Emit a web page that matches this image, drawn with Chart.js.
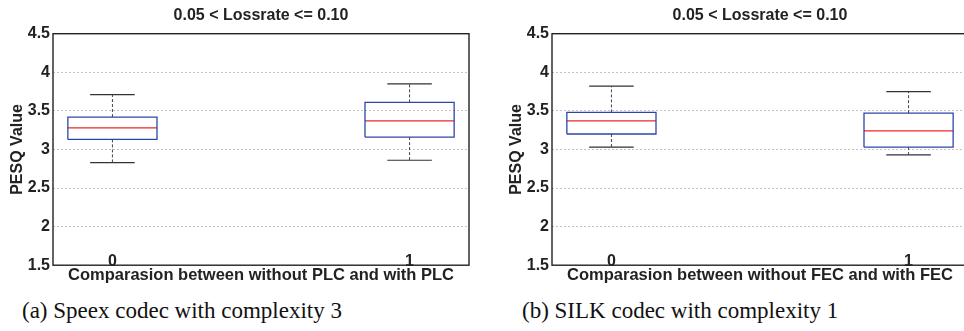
<!DOCTYPE html>
<html>
<head>
<meta charset="utf-8">
<script src="https://cdn.jsdelivr.net/npm/chart.js@4/dist/chart.umd.min.js"></script>
<style>
  html, body { margin: 0; padding: 0; background: #fff; overflow: hidden; }
  .wrap { position: relative; width: 964px; height: 331px; overflow: hidden; }
  canvas { position: absolute; top: 0; }
  #speexChart { left: 0; }
  #silkChart { left: 499px; }
  .caption { position: absolute; top: 299px; font-family: 'Liberation Serif', serif; font-size: 23px; line-height: 23px; color: #111; white-space: nowrap; }
</style>
</head>
<body>
<div class="wrap">
  <canvas id="speexChart" width="480" height="285"></canvas>
  <canvas id="silkChart" width="480" height="285"></canvas>
  <div class="caption" style="left:22px">(a) Speex codec with complexity 3</div>
  <div class="caption" style="left:522px">(b) SILK codec with complexity 1</div>
</div>
<script>
// box plot groups (x positions) and y tick labels
const groups = [0, 1];
const tickValues = [1.5, 2, 2.5, 3, 3.5, 4, 4.5];

// Speex, complexity 3 (without PLC / with PLC)
const speexMin = [2.83, 2.86];
const speexQ1 = [3.13, 3.16];
const speexMedian = [3.28, 3.37];
const speexQ3 = [3.42, 3.61];
const speexMax = [3.71, 3.85];

// SILK, complexity 1 (without FEC / with FEC)
const silkMin = [3.03, 2.93];
const silkQ1 = [3.20, 3.03];
const silkMedian = [3.37, 3.24];
const silkQ3 = [3.48, 3.47];
const silkMax = [3.82, 3.75];

const boxHalf = 0.15;
const capHalf = 0.075;
const textColor = '#222';
const axisFont = { family: "'Liberation Sans', Arial, sans-serif", size: 16, weight: 'bold' };
const xTitleFont = { family: "'Liberation Sans', Arial, sans-serif", size: 16.5, weight: 'bold' };

function gap() {
    return { x: null, y: null };
}

function boxPlotSets(mins, q1s, meds, q3s, maxs) {
    const boxes = [], medians = [], whiskers = [], caps = [];
    groups.forEach(function(g, i) {
        boxes.push({ x: g - boxHalf, y: q1s[i] }, { x: g + boxHalf, y: q1s[i] },
                   { x: g + boxHalf, y: q3s[i] }, { x: g - boxHalf, y: q3s[i] },
                   { x: g - boxHalf, y: q1s[i] }, gap());
        medians.push({ x: g - boxHalf, y: meds[i] }, { x: g + boxHalf, y: meds[i] }, gap());
        whiskers.push({ x: g, y: q3s[i] }, { x: g, y: maxs[i] }, gap(),
                      { x: g, y: q1s[i] }, { x: g, y: mins[i] }, gap());
        caps.push({ x: g - capHalf, y: maxs[i] }, { x: g + capHalf, y: maxs[i] }, gap(),
                  { x: g - capHalf, y: mins[i] }, { x: g + capHalf, y: mins[i] }, gap());
    });
    const line = function(data, color, width, dash) {
        return {
            data: data,
            showLine: true,
            borderColor: color,
            borderWidth: width,
            borderDash: dash || [],
            pointRadius: 0,
            fill: false,
            tension: 0
        };
    };
    return [
        line(whiskers, '#444', 1, [3, 2]),
        line(caps, '#333', 1.2),
        line(boxes, '#2c46a6', 1.3),
        line(medians, '#ea2a2a', 1.2)
    ];
}

// axes box + group labels sitting on the bottom axis, like MATLAB boxplot
const framePlugin = {
    id: 'frame',
    afterDraw: function(chart) {
        const ctx = chart.ctx;
        const a = chart.chartArea;
        const x = chart.scales.x;
        ctx.save();
        ctx.strokeStyle = textColor;
        ctx.lineWidth = 1.4;
        ctx.strokeRect(a.left, a.top, a.right - a.left, a.bottom - a.top);
        ctx.font = "bold 16px 'Liberation Sans', Arial, sans-serif";
        ctx.fillStyle = textColor;
        ctx.textAlign = 'center';
        ctx.textBaseline = 'alphabetic';
        groups.forEach(function(g) {
            ctx.fillText(String(g), x.getPixelForValue(g), a.bottom + 1);
        });
        ctx.restore();
    }
};

function makeChart(id, xTitle, sets) {
    new Chart(document.getElementById(id).getContext('2d'), {
        type: 'scatter',
        data: { datasets: sets },
        options: {
            responsive: false,
            animation: false,
            devicePixelRatio: 1,
            layout: { padding: { left: 0, right: 11, top: 0, bottom: 0 } },
            plugins: {
                legend: { display: false },
                tooltip: { enabled: false },
                title: {
                    display: true,
                    text: '0.05 < Lossrate <= 0.10',
                    fullSize: false,
                    color: textColor,
                    font: axisFont,
                    padding: { top: 6, bottom: 8.5 }
                }
            },
            scales: {
                x: {
                    type: 'linear',
                    min: -0.2,
                    max: 1.2,
                    grid: { display: false, drawTicks: false },
                    border: { display: false },
                    ticks: { display: false },
                    title: {
                        display: true,
                        text: xTitle,
                        color: textColor,
                        font: xTitleFont,
                        padding: { top: 0, bottom: 0 }
                    }
                },
                y: {
                    type: 'linear',
                    min: 1.5,
                    max: 4.5,
                    afterBuildTicks: function(scale) {
                        scale.ticks = tickValues.map(function(v) { return { value: v }; });
                    },
                    afterFit: function(scale) {
                        scale.width = 53;
                    },
                    grid: {
                        drawTicks: false,
                        lineWidth: 1,
                        color: function(c) {
                            if (c.tick && (c.tick.value === 1.5 || c.tick.value === 4.5)) {
                                return 'rgba(0,0,0,0)';
                            }
                            return '#c4c4c4';
                        }
                    },
                    border: { display: false, dash: [2, 2] },
                    ticks: {
                        padding: 3,
                        color: textColor,
                        font: axisFont,
                        callback: function(value) {
                            return String(value);
                        }
                    },
                    title: {
                        display: true,
                        text: 'PESQ Value',
                        color: textColor,
                        font: axisFont,
                        padding: { top: 8, bottom: 0 }
                    }
                }
            }
        },
        plugins: [framePlugin]
    });
}

makeChart('speexChart', 'Comparasion between without PLC and with PLC',
    boxPlotSets(speexMin, speexQ1, speexMedian, speexQ3, speexMax));
makeChart('silkChart', 'Comparasion between without FEC and with FEC',
    boxPlotSets(silkMin, silkQ1, silkMedian, silkQ3, silkMax));
</script>
</body>
</html>
